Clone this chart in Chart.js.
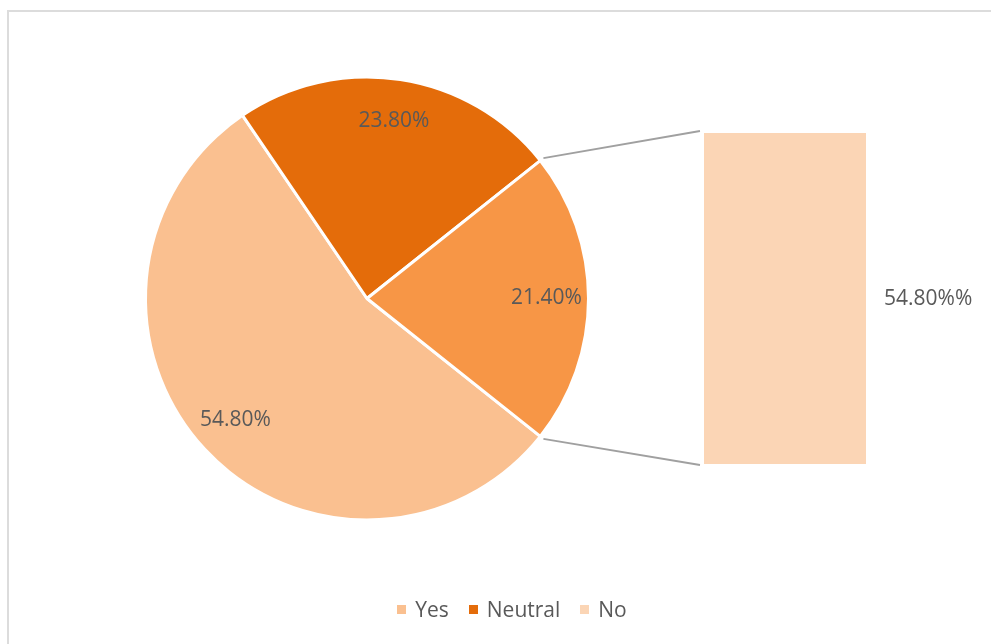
<!DOCTYPE html>
<html>
<head>
<meta charset="utf-8">
<script src="https://cdn.jsdelivr.net/npm/chart.js@4.4.1/dist/chart.umd.min.js"></script>
<style>
  html, body { margin: 0; padding: 0; background: #fff; overflow: hidden; }
  #wrap { position: relative; width: 991px; height: 644px; }
  #frame {
    position: absolute; left: 7px; top: 10px; width: 1000px; height: 700px;
    border: 2px solid #DCDCDC; box-sizing: border-box;
  }
  #wrap canvas { position: absolute; left: 0; top: 0; }
  #legend {
    position: absolute; left: 33px; width: 958px; top: 598px; height: 22px;
    display: flex; justify-content: center; align-items: center;
    font: 21px "Open Sans", sans-serif; color: #595959;
  }
  #legend .item { display: flex; align-items: center; margin: 0 10px; }
  #legend .box { width: 9px; height: 9px; margin-right: 9px; }
</style>
</head>
<body>
<div id="wrap">
  <div id="frame"></div>
  <canvas id="pie" width="991" height="644"></canvas>
  <canvas id="bar" width="991" height="644"></canvas>
  <div id="legend"></div>
</div>
<script>
// pie: Yes / Neutral plus the "other" slice that is split out into the bar
const pieLabels = ['Yes', 'Neutral', 'Other'];
const pieValues = [54.8, 23.8, 21.4];
// secondary bar
const barLabels = ['No'];
const barValues = [54.8];
// legend entries
const legendLabels = ['Yes', 'Neutral', 'No'];

const pieColors = ['#FAC090', '#E46C0A', '#F79646'];
const barColor = '#FBD5B5';
const legendColors = ['#FAC090', '#E46C0A', '#FBD5B5'];
const labelFont = '21px "Open Sans", sans-serif';
const labelColor = '#595959';

// other slice sits centred on the right, so Yes starts just after it
const rotation = 90 + pieValues[2] * 1.8;

const pieLabelPlugin = {
  id: 'pieLabels',
  afterDatasetsDraw(chart) {
    const ctx = chart.ctx;
    const meta = chart.getDatasetMeta(0);
    ctx.save();
    ctx.font = labelFont;
    ctx.fillStyle = labelColor;
    ctx.textAlign = 'center';
    ctx.textBaseline = 'middle';
    meta.data.forEach((arc, i) => {
      const p = arc.getProps(['x', 'y', 'startAngle', 'endAngle', 'outerRadius'], true);
      const mid = (p.startAngle + p.endAngle) / 2;
      const r = p.outerRadius * 0.81;
      ctx.fillText(pieValues[i].toFixed(2) + '%', p.x + Math.cos(mid) * r, p.y + Math.sin(mid) * r);
    });
    ctx.restore();
  }
};

const pieChart = new Chart(document.getElementById('pie'), {
  type: 'pie',
  data: {
    labels: pieLabels,
    datasets: [{
      data: pieValues,
      backgroundColor: pieColors,
      borderColor: '#ffffff',
      borderWidth: 3,
    }],
  },
  options: {
    responsive: false,
    animation: false,
    rotation: rotation,
    layout: { padding: { left: 144, right: 401, top: 75, bottom: 122 } },
    plugins: { legend: { display: false }, tooltip: { enabled: false } },
  },
  plugins: [pieLabelPlugin],
});

// connector lines and the value label of the bar
const barExtras = {
  id: 'barExtras',
  afterDatasetsDraw(chart) {
    const ctx = chart.ctx;
    const bar = chart.getDatasetMeta(0).data[0];
    const b = bar.getProps(['x', 'y', 'base', 'width'], true);
    const left = b.x - b.width / 2;
    const right = b.x + b.width / 2;

    const arc = pieChart.getDatasetMeta(0).data[2];
    const a = arc.getProps(['x', 'y', 'startAngle', 'endAngle', 'outerRadius'], true);
    const r = a.outerRadius + 4;

    ctx.save();
    ctx.strokeStyle = '#A0A0A0';
    ctx.lineWidth = 1.8;
    ctx.beginPath();
    ctx.moveTo(a.x + Math.cos(a.startAngle) * r, a.y + Math.sin(a.startAngle) * r);
    ctx.lineTo(left - 4, b.y - 2);
    ctx.moveTo(a.x + Math.cos(a.endAngle) * r, a.y + Math.sin(a.endAngle) * r);
    ctx.lineTo(left - 4, b.base + 1);
    ctx.stroke();

    ctx.font = labelFont;
    ctx.fillStyle = labelColor;
    ctx.textAlign = 'left';
    ctx.textBaseline = 'middle';
    ctx.fillText(barValues[0].toFixed(2) + '%%', right + 18, (b.y + b.base) / 2 + 1);
    ctx.restore();
  }
};

new Chart(document.getElementById('bar'), {
  type: 'bar',
  data: {
    labels: barLabels,
    datasets: [{
      data: barValues,
      backgroundColor: barColor,
      barPercentage: 1,
      categoryPercentage: 1,
    }],
  },
  options: {
    responsive: false,
    animation: false,
    layout: { padding: { left: 704, right: 125, top: 133, bottom: 180 } },
    scales: {
      x: { display: false },
      y: { display: false, min: 0, max: barValues[0] },
    },
    plugins: { legend: { display: false }, tooltip: { enabled: false } },
  },
  plugins: [barExtras],
});

// legend below the chart
const legend = document.getElementById('legend');
legendLabels.forEach((label, i) => {
  const item = document.createElement('div');
  item.className = 'item';
  item.innerHTML = '<span class="box" style="background:' + legendColors[i] + '"></span><span>' + label + '</span>';
  legend.appendChild(item);
});
</script>
</body>
</html>
